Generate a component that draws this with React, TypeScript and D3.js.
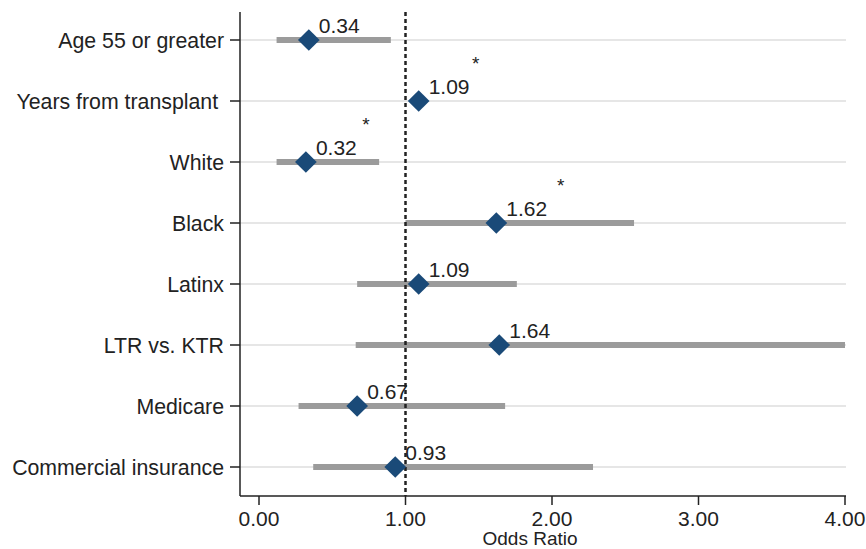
import React from "react";
import * as d3 from "d3";

const categories = [
  "Age 55 or greater",
  "Years from transplant ",
  "White",
  "Black",
  "Latinx",
  "LTR vs. KTR",
  "Medicare",
  "Commercial insurance",
];
const oddsRatios = [0.34, 1.09, 0.32, 1.62, 1.09, 1.64, 0.67, 0.93];
const ciLow = [0.12, 1.06, 0.12, 1.0, 0.67, 0.66, 0.27, 0.37];
const ciHigh = [0.9, 1.12, 0.82, 2.56, 1.76, 4.0, 1.68, 2.28];
const starX = [null, 1.48, 0.73, 2.06, null, null, null, null];
const xTicks = [0, 1, 2, 3, 4];

export default function App() {
  const W = 866;
  const H = 549;
  const left = 240;
  const right = 846;
  const top = 12;
  const bottom = 496;
  const x = d3.scaleLinear().domain([0, 4]).range([259, 845]);
  const y = d3
    .scalePoint<string>()
    .domain(categories)
    .range([40, 467]);
  const font = "Arial, 'Liberation Sans', sans-serif";
  const diamond = d3.symbol().type(d3.symbolDiamond2).size(300)();

  return (
    <svg
      width={W}
      height={H}
      style={{ position: "absolute", left: 0, top: 0, background: "#fff" }}
      fontFamily={font}
    >
      {/* gridlines */}
      {categories.map((c) => (
        <line
          key={"g" + c}
          x1={left}
          x2={right}
          y1={y(c)}
          y2={y(c)}
          stroke="#e6e6e6"
          strokeWidth={2}
        />
      ))}
      {/* CI bars */}
      {categories.map((c, i) => (
        <line
          key={"ci" + c}
          x1={x(ciLow[i])}
          x2={x(Math.min(ciHigh[i], 4))}
          y1={y(c)}
          y2={y(c)}
          stroke="#9b9b9b"
          strokeWidth={6}
        />
      ))}
      {/* reference line */}
      <line
        x1={x(1)}
        x2={x(1)}
        y1={top}
        y2={bottom}
        stroke="#222"
        strokeWidth={2.5}
        strokeDasharray="4,3"
      />
      {/* diamonds */}
      {categories.map((c, i) => (
        <path
          key={"d" + c}
          d={diamond || ""}
          transform={`translate(${x(oddsRatios[i])},${y(c)})`}
          fill="#1a4a78"
        />
      ))}
      {/* value labels */}
      {categories.map((c, i) => (
        <text
          key={"t" + c}
          x={x(oddsRatios[i]) + 10}
          y={(y(c) as number) - 7}
          fontSize={21}
          fill="#222"
        >
          {oddsRatios[i].toFixed(2)}
        </text>
      ))}
      {/* significance stars */}
      {categories.map((c, i) =>
        starX[i] == null ? null : (
          <text
            key={"s" + c}
            x={x(starX[i] as number)}
            y={(y(c) as number) - 31}
            fontSize={19}
            fill="#222"
            textAnchor="middle"
          >
            *
          </text>
        )
      )}
      {/* y axis */}
      <line x1={left} x2={left} y1={top} y2={bottom} stroke="#222" strokeWidth={1.5} />
      {categories.map((c) => (
        <g key={"yl" + c}>
          <line x1={left - 10} x2={left} y1={y(c)} y2={y(c)} stroke="#222" strokeWidth={1.5} />
          <text
            x={left - 16}
            y={y(c)}
            dy="0.36em"
            textAnchor="end"
            fontSize={21.3}
            fill="#222"
            style={{ whiteSpace: "pre" }}
          >
            {c}
          </text>
        </g>
      ))}
      {/* x axis */}
      <line x1={left} x2={right} y1={bottom} y2={bottom} stroke="#222" strokeWidth={1.5} />
      {xTicks.map((t) => (
        <g key={"xt" + t}>
          <line x1={x(t)} x2={x(t)} y1={bottom} y2={bottom + 9} stroke="#222" strokeWidth={1.5} />
          <text x={x(t)} y={526} textAnchor="middle" fontSize={21} fill="#222">
            {t.toFixed(2)}
          </text>
        </g>
      ))}
      <text x={530} y={545} textAnchor="middle" fontSize={19} fill="#222">
        Odds Ratio
      </text>
    </svg>
  );
}
